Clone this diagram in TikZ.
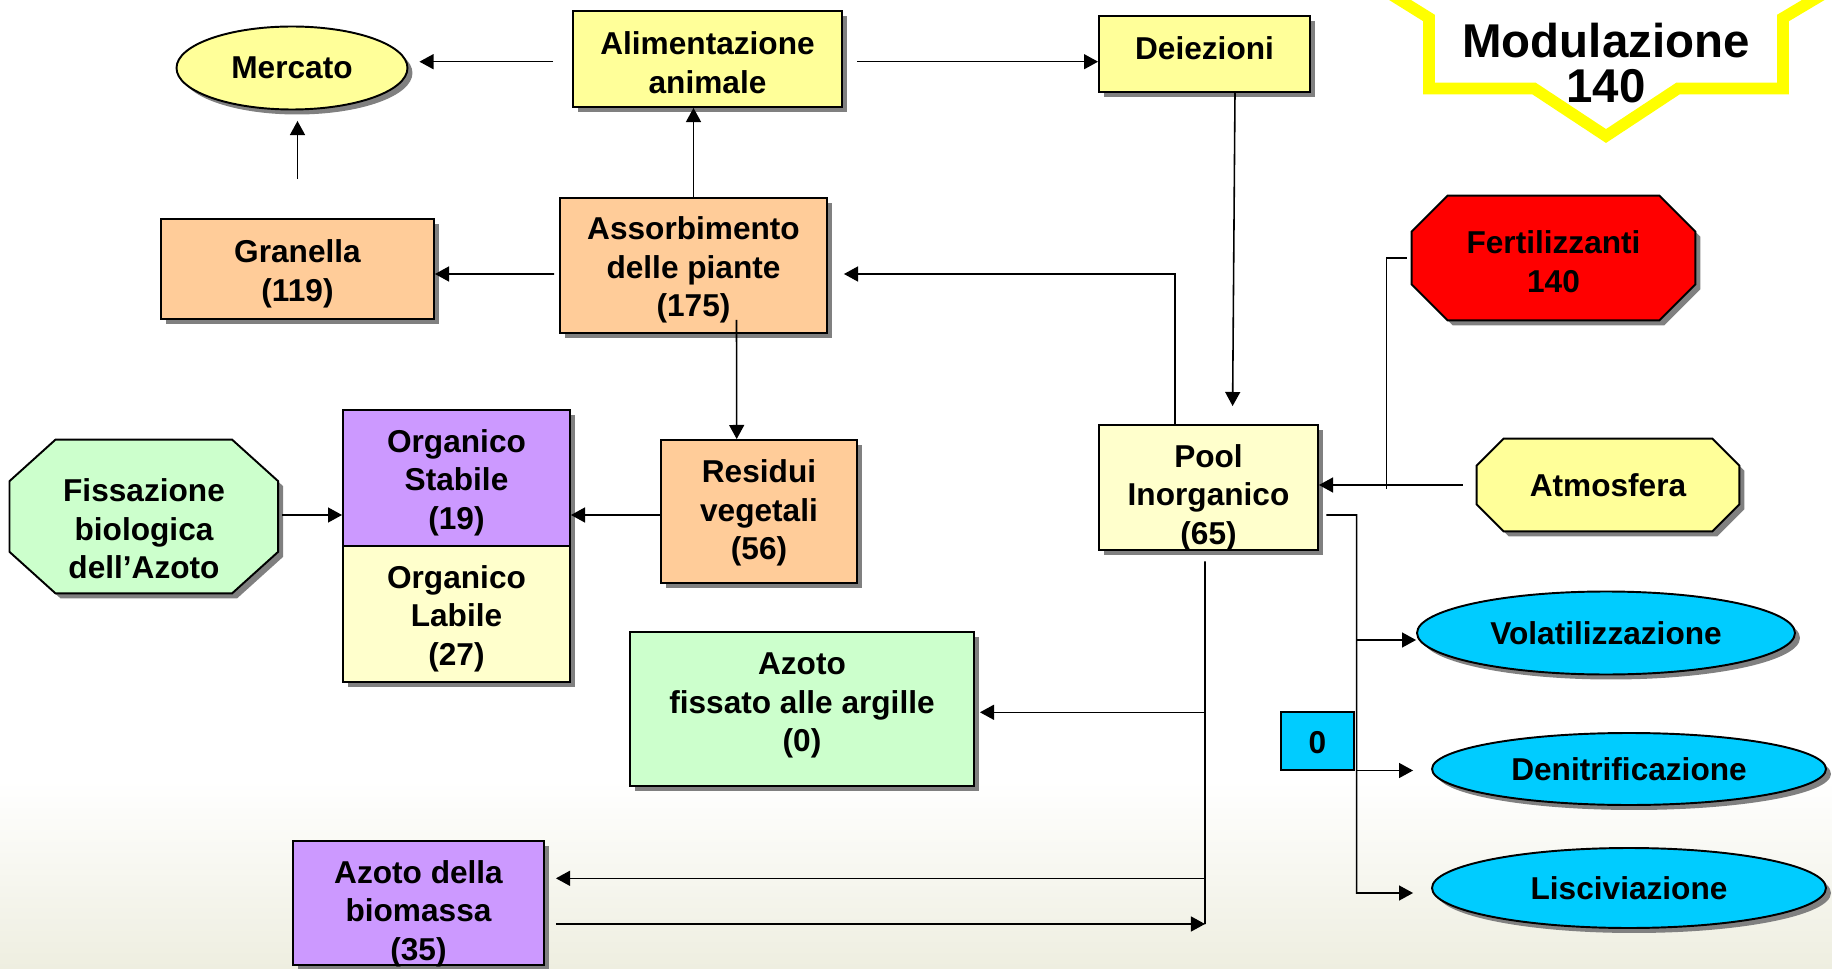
\documentclass[tikz,border=0pt]{standalone}
\usepackage{fontspec}
\setmainfont{Liberation Sans}
\usetikzlibrary{shapes.geometric, shadows, arrows.meta, calc}
\definecolor{ylw}{HTML}{FFFF99}
\definecolor{lylw}{HTML}{FFFFCC}
\definecolor{orng}{HTML}{FFCC99}
\definecolor{prp}{HTML}{CC99FF}
\definecolor{grn}{HTML}{CCFFCC}
\definecolor{cyn}{HTML}{00CCFF}
\definecolor{shadowgray}{HTML}{808080}
\definecolor{modyellow}{HTML}{FFFF00}
\definecolor{bgtint}{RGB}{238,238,224}
\pgfdeclarelayer{bg}
\pgfsetlayers{bg,main}
\newcommand\octshape[4]{%
\begin{pgfonlayer}{bg}
\fill[shadowgray, transform canvas={xshift=0.1cm, yshift=-0.1cm}]
 ([xshift=#2]#1.north west) -- ([xshift=-#2]#1.north east) -- ([yshift=-#3]#1.north east) -- ([yshift=#3]#1.south east) -- ([xshift=-#2]#1.south east) -- ([xshift=#2]#1.south west) -- ([yshift=#3]#1.south west) -- ([yshift=-#3]#1.north west) -- cycle;
\filldraw[fill=#4, draw=black, line width=1.1pt]
 ([xshift=#2]#1.north west) -- ([xshift=-#2]#1.north east) -- ([yshift=-#3]#1.north east) -- ([yshift=#3]#1.south east) -- ([xshift=-#2]#1.south east) -- ([xshift=#2]#1.south west) -- ([yshift=#3]#1.south west) -- ([yshift=-#3]#1.north west) -- cycle;
\end{pgfonlayer}}
\begin{document}
\begin{tikzpicture}[x=0.02cm, y=-0.02cm,
  txt/.style={font=\bfseries\fontsize{18}{22}\selectfont, align=center, text=black, inner sep=0pt},
  boxshadow/.style={general shadow={fill=shadowgray, shadow xshift=0.1cm, shadow yshift=-0.1cm}},
  box/.style={txt, draw=black, line width=1.1pt, rectangle, boxshadow},
  ell/.style={txt, draw=black, line width=1.1pt, ellipse, boxshadow},
  conn/.style={line width=0.9pt, draw=black},
  arr/.style={conn, -{Triangle[length=8pt,width=8.5pt]}},
]
\useasboundingbox (0,0) rectangle (1832,969);
\begin{pgfonlayer}{bg}
\fill[white] (0,0) rectangle (1832,969);
\shade[top color=white, bottom color=bgtint] (0,780) rectangle (1832,969);
\end{pgfonlayer}

% Modulazione badge
\draw[modyellow, line width=6.6pt, line join=miter]
  (1384,-10) -- (1429,18) -- (1429,88.5) -- (1534,88.5) -- (1606,136) -- (1678,88.5) -- (1783,88.5) -- (1783,18) -- (1830,-10);
\node[font=\bfseries\fontsize{27}{25.5}\selectfont, align=center, inner sep=0pt] (modt) at (1606,63) {Modulazione\\140};

% boxes
\node[box, fill=ylw, minimum width=5.38cm, minimum height=1.92cm] (alim) at (707.5,59) {};
\node[txt] (alimt) at (707.5,62.5) {Alimentazione\\animale};
\node[ell, fill=ylw, minimum width=4.62cm, minimum height=1.66cm] (merc) at (292,68) {Mercato};
\node[box, fill=ylw, minimum width=4.22cm, minimum height=1.52cm] (deie) at (1204.5,54) {};
\node[txt] (deiet) at (1204.5,48) {Deiezioni};
\node[box, fill=orng, minimum width=5.46cm, minimum height=2cm] (gran) at (297.5,269) {};
\node[txt] (grant) at (297.5,273.5) {Granella\\(119)};
\node[box, fill=orng, minimum width=5.34cm, minimum height=2.7cm] (assor) at (693.5,265.5) {};
\node[txt] (assort) at (693.5,270) {Assorbimento\\delle piante\\(175)};
\node[box, fill=orng, minimum width=3.92cm, minimum height=2.86cm] (resid) at (759,511.5) {};
\node[txt] (residt) at (759,513) {Residui\\vegetali\\(56)};
\node[box, fill=prp, minimum width=4.54cm, minimum height=2.72cm] (orgs) at (456.5,478) {};
\node[txt] (orgst) at (456.5,482.7) {Organico\\Stabile\\(19)};
\node[box, fill=lylw, minimum width=4.54cm, minimum height=2.72cm] (orgl) at (456.5,614) {};
\node[txt] (orglt) at (456.5,618.7) {Organico\\Labile\\(27)};
\node[box, fill=lylw, minimum width=4.38cm, minimum height=2.5cm] (pool) at (1208.5,487.5) {};
\node[txt] (poolt) at (1208.5,497.5) {Pool\\Inorganico\\(65)};
\node[box, fill=grn, minimum width=6.88cm, minimum height=3.08cm] (azfis) at (802,709) {};
\node[txt] (azfist) at (802,705.5) {Azoto\\fissato alle argille\\(0)};
\node[box, fill=prp, minimum width=5.02cm, minimum height=2.48cm] (biom) at (418.5,903) {};
\node[txt] (biomt) at (418.5,913.5) {Azoto della\\biomassa\\(35)};
\node[ell, fill=cyn, minimum width=7.56cm, minimum height=1.66cm] (vola) at (1606,633) {Volatilizzazione};
\node[ell, fill=cyn, minimum width=7.88cm, minimum height=1.44cm] (deni) at (1629,769) {Denitrificazione};
\node[ell, fill=cyn, minimum width=7.88cm, minimum height=1.6cm] (lisc) at (1629,888) {Lisciviazione};
\node[txt, draw=black, line width=1.1pt, fill=cyn, minimum width=1.46cm, minimum height=1.16cm] (zero) at (1317.5,741) {};
\node[txt] (zerot) at (1317.5,743) {0};

% octagons
\node[txt, minimum width=5.66cm, minimum height=2.48cm] (fert) at (1553.5,258) {};
\octshape{fert}{0.72cm}{0.72cm}{red}
\node[txt] (fertt) at (1553.5,262) {Fertilizzanti\\140};
\node[txt, minimum width=5.24cm, minimum height=1.84cm] (atmo) at (1608,485) {Atmosfera};
\octshape{atmo}{0.54cm}{0.54cm}{ylw}
\node[txt, minimum width=5.36cm, minimum height=3.06cm] (fiss) at (143.8,516.5) {};
\octshape{fiss}{0.92cm}{0.83cm}{grn}
\node[txt] (fisst) at (144,529) {Fissazione\\biologica\\dell’Azoto};

% connectors
\coordinate (aw) at ([yshift=-0.054cm]alim.west);
\coordinate (ae) at ([yshift=-0.054cm]alim.east);
\draw[arr, shorten <=0.38cm, shorten >=0.22cm] (aw) -- (aw -| merc.east);
\draw[arr, shorten <=0.78cm, shorten >=0.21cm] (gran.north) -- (gran.north |- merc.south);
\draw[arr] (assor.north) -- (assor.north |- alim.south);
\draw[arr, shorten <=0.29cm] (ae) -- (ae -| deie.west);
\draw[arr, shorten <=0.1cm] ([yshift=-0.17cm]assor.west) -- ([yshift=-0.1cm]gran.east);
\draw[arr] ([xshift=0.86cm, yshift=0.28cm]assor.south) -- ([xshift=-0.446cm]resid.north);
\draw[arr] ([yshift=-0.07cm]resid.west) -- ([yshift=-0.74cm]orgs.east);
\draw[arr, shorten <=0.08cm] ([yshift=0.03cm]fiss.east) -- ([yshift=-0.74cm]orgs.west);
\draw[arr] ([xshift=0.61cm]deie.south) -- ([xshift=0.482cm, yshift=0.36cm]pool.north);
\draw[arr] ([xshift=-0.674cm]pool.north) |- ([xshift=0.32cm, yshift=-0.17cm]assor.east);
\coordinate (fj) at (1386.3,489);
\draw[conn] ([xshift=-0.1cm]fert.west) -| (fj);
\draw[arr, shorten <=0.28cm] (atmo.west) -- (atmo.west -| pool.east);
\coordinate (tr) at (1356.6,515);
\draw[arr] ([xshift=0.15cm, yshift=-0.55cm]pool.east) -- (tr) |- ([xshift=-0.36cm, yshift=-0.1cm]lisc.west);
\coordinate (vv) at ([yshift=-0.14cm]vola.west);
\draw[arr] (tr |- vv) -- (vv);
\coordinate (dv) at ([xshift=-0.36cm, yshift=-0.03cm]deni.west);
\draw[arr] (tr |- dv) -- (dv);
\coordinate (pd) at (1205,924);
\draw[conn] ([xshift=-0.07cm, yshift=-0.21cm]pool.south) -- (pd);
\coordinate (af) at ([xshift=0.1cm, yshift=-0.066cm]azfis.east);
\draw[arr] (pd |- af) -- (af);
\coordinate (bi) at ([xshift=0.22cm, yshift=0.494cm]biom.east);
\draw[arr] (pd |- bi) -- (bi);
\coordinate (bo) at ([xshift=0.22cm, yshift=-0.42cm]biom.east);
\draw[arr] (bo) -- (bo -| pd);
\end{tikzpicture}
\end{document}
